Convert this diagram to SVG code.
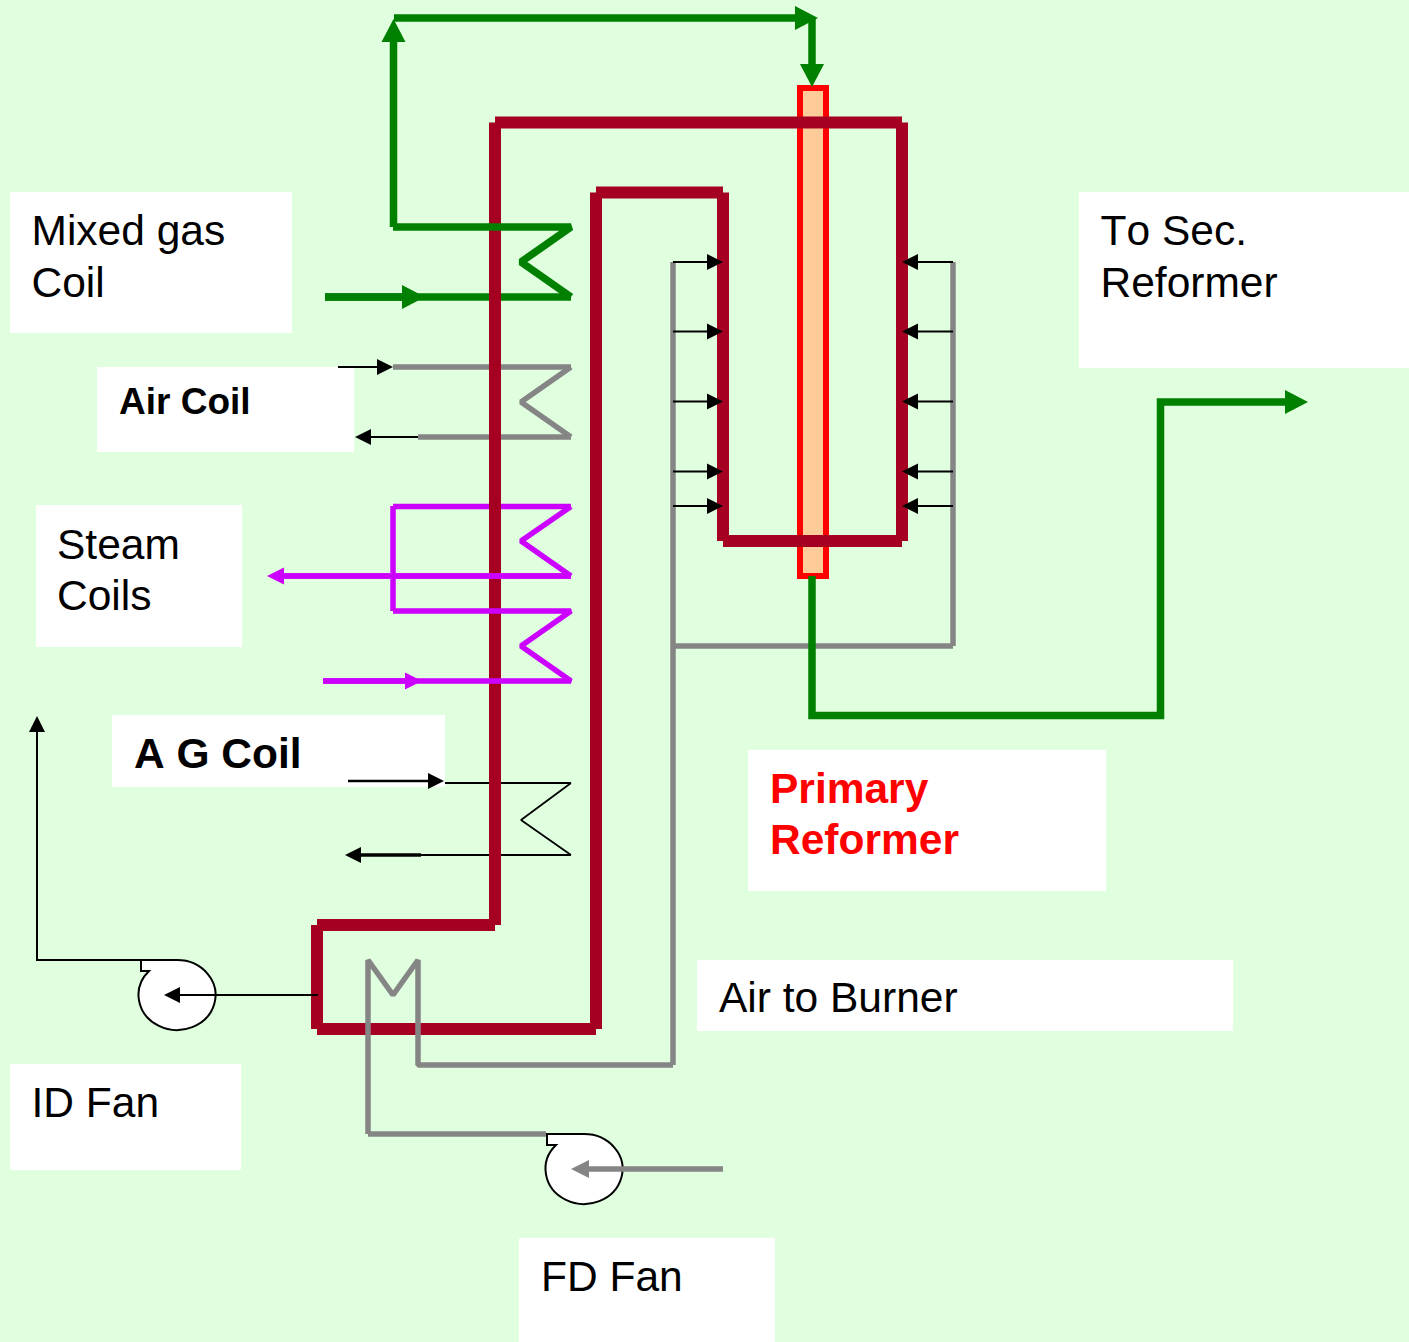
<svg xmlns="http://www.w3.org/2000/svg" width="1409" height="1342" viewBox="0 0 1409 1342">
<style>
.box{fill:#fff}
text{font-family:"Liberation Sans",Arial,sans-serif;font-size:42.5px;fill:#000;font-kerning:none}
.b{font-weight:700}
path,line,polyline{fill:none;stroke-linejoin:bevel}
.maroon{stroke:#a50021;stroke-width:12}
.green{stroke:#008000;stroke-width:7.5}
.gray{stroke:#858585;stroke-width:5.5}
.magenta{stroke:#cc00ff;stroke-width:5.5}
.thin{stroke:#000;stroke-width:1.800}
.med{stroke:#000;stroke-width:2.6}
.sq{stroke-linejoin:miter}
.fan{fill:#fff;stroke:#000;stroke-width:2;stroke-linejoin:miter}
</style>
<defs>
<marker id="ak" markerUnits="userSpaceOnUse" markerWidth="18" markerHeight="18" refX="0" refY="8" orient="auto" overflow="visible"><path d="M0,0L16,8L0,16Z" style="fill:#000;stroke:none"/></marker>
<marker id="ag" markerUnits="userSpaceOnUse" markerWidth="26" markerHeight="26" refX="0" refY="12" orient="auto" overflow="visible"><path d="M0,0L23,12L0,24Z" style="fill:#008000;stroke:none"/></marker>
<marker id="am" markerUnits="userSpaceOnUse" markerWidth="18" markerHeight="18" refX="0" refY="8.500" orient="auto" overflow="visible"><path d="M0,0L17,8.500L0,17Z" style="fill:#cc00ff;stroke:none"/></marker>
<marker id="ay" markerUnits="userSpaceOnUse" markerWidth="20" markerHeight="20" refX="0" refY="9" orient="auto" overflow="visible"><path d="M0,0L18,9L0,18Z" style="fill:#858585;stroke:none"/></marker>
</defs>
<rect width="1409" height="1342" fill="#dfffdf"/>
<g id="label-mixed-gas"><rect class="box" x="10" y="192" width="282" height="141"/><text x="31.500" y="245">Mixed gas</text><text x="31.500" y="297">Coil</text></g>
<g id="label-to-sec"><rect class="box" x="1079" y="192" width="330" height="176"/><text x="1100.500" y="245">To Sec.</text><text x="1100.500" y="297">Reformer</text></g>
<g id="label-air-coil"><rect class="box" x="97" y="367" width="257" height="85"/><text class="b" x="119" y="414" style="font-size:37px">Air Coil</text></g>
<g id="label-steam"><rect class="box" x="36" y="505" width="206" height="142"/><text x="57" y="559">Steam</text><text x="57" y="610">Coils</text></g>
<g id="label-ag-coil"><rect class="box" x="112" y="715" width="333" height="72"/><text class="b" x="134" y="768">A G Coil</text></g>
<g id="label-primary"><rect class="box" x="748" y="750" width="358" height="141"/><text class="b" x="770" y="803" style="fill:#f00">Primary</text><text class="b" x="770" y="854" style="fill:#f00">Reformer</text></g>
<g id="label-air-burner"><rect class="box" x="697" y="960" width="536" height="71"/><text x="719" y="1012">Air to Burner</text></g>
<g id="label-id-fan"><rect class="box" x="10" y="1064" width="231" height="106"/><text x="31.500" y="1117">ID Fan</text></g>
<g id="label-fd-fan"><rect class="box" x="519" y="1238" width="256" height="104"/><text x="541" y="1291">FD Fan</text></g>

<g id="reformer-tube"><rect x="800" y="88" width="26" height="488" fill="#ffcc99" stroke="#f00" stroke-width="6"/></g>

<g id="connectors">
<g id="under-furnace">
<path class="green" d="M325,297H571"/>
<path class="gray" d="M393,367H571M418,437H571"/>
<path class="magenta" d="M393,506.500H571"/>
<path class="thin" d="M445,783H571M420,855H571"/>
<path class="gray" d="M673,262V1065M953,262V646"/>
</g>
<g id="furnace">
<path class="maroon" d="M495,122.500H902"/>
<path class="maroon" d="M902,122.500V541"/>
<path class="maroon" d="M495,122.500V925"/>
<path class="maroon" d="M495,925H317"/>
<path class="maroon" d="M317,925V1029"/>
<path class="maroon" d="M317,1029H596"/>
<path class="maroon" d="M596,1029V192.500"/>
<path class="maroon" d="M596,192.500H723"/>
<path class="maroon" d="M723,192.500V541"/>
<path class="maroon" d="M723,541H902"/>
</g>
<g id="over-furnace">
<path class="green" d="M393,227H571L521,262L571,297"/>
<path class="green" d="M393.500,227V42" marker-end="url(#ag)"/>
<path class="green" d="M394,18H795" marker-end="url(#ag)"/>
<path class="green" d="M812,18V64" marker-end="url(#ag)"/>
<path class="green" d="M325,297H402" marker-end="url(#ag)"/>
<path class="gray" d="M571,367L521,402L571,437"/>
<path class="magenta" d="M571,506.500L521,541L571,576M393,506V611"/>
<path class="magenta" d="M284,576H571"/>
<path class="magenta" d="M393,611H571L521,646L571,681H323"/>
<path class="magenta" d="M323,681H405" marker-end="url(#am)"/>
<path class="magenta" d="M571,576H284" marker-end="url(#am)"/>
<path class="thin" d="M571,783L521,820L571,855"/>
<path class="gray" d="M368,1134V960L393,995L418,960V1065H673"/>
<path class="gray" d="M368,1134H546"/>
<path class="gray" d="M673,646H953"/>
<path class="green sq" d="M812,576V715.500H1160.500V402H1285" marker-end="url(#ag)"/>
<path class="thin" d="M338,367H377" marker-end="url(#ak)"/>
<path class="thin" d="M418,437H371" marker-end="url(#ak)"/>
<path class="med" d="M348,781H428" marker-end="url(#ak)"/>
<path class="med" style="stroke-width:3.500" d="M421,855H361" marker-end="url(#ak)"/>
<path class="thin" d="M673,262H707" marker-end="url(#ak)"/>
<path class="thin" d="M673,331.500H707" marker-end="url(#ak)"/>
<path class="thin" d="M673,401.500H707" marker-end="url(#ak)"/>
<path class="thin" d="M673,471.500H707" marker-end="url(#ak)"/>
<path class="thin" d="M673,506H707" marker-end="url(#ak)"/>
<path class="thin" d="M953,262H918" marker-end="url(#ak)"/>
<path class="thin" d="M953,331.500H918" marker-end="url(#ak)"/>
<path class="thin" d="M953,401.500H918" marker-end="url(#ak)"/>
<path class="thin" d="M953,471.500H918" marker-end="url(#ak)"/>
<path class="thin" d="M953,506H918" marker-end="url(#ak)"/>
<path class="med sq" style="stroke-width:2" d="M141,960H37V732" marker-end="url(#ak)"/>
</g>
</g>
<g id="id-fan"><path class="fan" d="M141,960H177A38.500,35 0 1 1 149,971H141Z"/></g>
<g id="fd-fan"><path class="fan" d="M547,1134H584A38.500,35 0 1 1 556,1145H547Z"/></g>
<g id="fan-arrows">
<path class="med" style="stroke-width:2" d="M318,995H180" marker-end="url(#ak)"/>
<path class="gray" d="M723,1169H589" marker-end="url(#ay)"/>
</g>
</svg>
